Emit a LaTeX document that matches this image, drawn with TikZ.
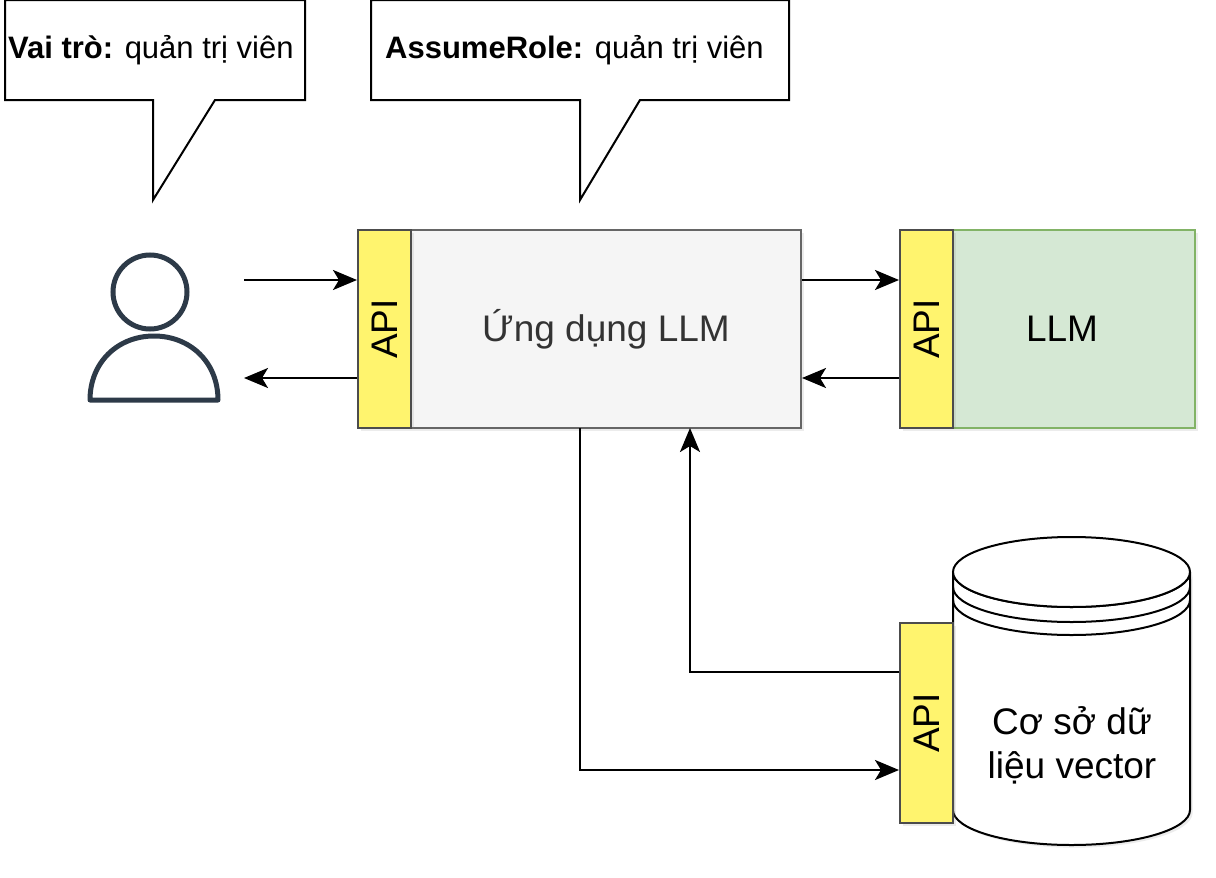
\documentclass[tikz,border=0pt]{standalone}
\usepackage{fontspec}
\setmainfont{Liberation Sans}
\usetikzlibrary{arrows.meta,shadows}
\begin{document}
\begin{tikzpicture}[x=1pt,y=-1pt,
  arr/.style={line width=2.5pt,-{Stealth[length=24pt,width=20pt,inset=6pt]}},
  api/.style={draw=black!70,line width=2pt,fill={rgb,255:red,255;green,244;blue,110},minimum width=53pt,minimum height=198pt,inner sep=0pt,drop shadow={opacity=0.15}},
  callout/.style={draw,line width=2pt,fill=white},
  lbl/.style={font=\fontsize{37}{44}\selectfont}]
\useasboundingbox[fill=white] (0,0) rectangle (1216,878);
% callouts
\draw[callout] (5,0) -- (305,0) -- (305,100) -- (215,100) -- (153,200) -- (153,100) -- (5,100) -- cycle;
\begin{scope}\clip (5,0) rectangle (305,100);
\node[anchor=west,font=\fontsize{31}{36}\selectfont,inner sep=0pt] (t1) at (8,50) {\textbf{Vai trò:} quản trị viên};
\end{scope}
\draw[callout] (371,0) -- (789,0) -- (789,100) -- (640,100) -- (580,200) -- (580,100) -- (371,100) -- cycle;
\begin{scope}\clip (371,0) rectangle (789,100);
\node[anchor=west,font=\fontsize{31}{36}\selectfont,inner sep=0pt] (t2) at (385,50) {\textbf{AssumeRole:} quản trị viên};
\end{scope}
% user
\definecolor{usr}{HTML}{2D3A48}
\draw[usr,line width=5pt,line join=round] (90,400) .. controls (90,362) and (118,336) .. (154,336) .. controls (190,336) and (218,362) .. (218,400) -- cycle;
\draw[usr,line width=5pt,fill=white] (150,292) circle (37);
\coordinate (uin) at (244,280);
\coordinate (uout) at (244,378);
% app
\node[draw=black!60,line width=2pt,fill=black!4,minimum width=390pt,minimum height=198pt,drop shadow={opacity=0.15},lbl,text=black!80] (app) at (606,329) {Ứng dụng LLM};
\node[api] (api1) at (384.5,329) {};
\node[rotate=90,lbl] at (api1) {API};
% llm
\node[draw={rgb,255:red,130;green,179;blue,102},line width=2pt,fill={rgb,255:red,213;green,232;blue,212},minimum width=242pt,minimum height=198pt,drop shadow={opacity=0.15},lbl] (llm) at (1074,329) {\hspace*{-24pt}LLM};
\node[api] (api2) at (926.5,329) {};
\node[rotate=90,lbl] at (api2) {API};
% db
\draw[line width=2pt,fill=white,drop shadow={opacity=0.15}] (953,572) arc[start angle=180,end angle=0,x radius=118.5,y radius=35] -- (1190,810) arc[start angle=0,end angle=180,x radius=118.5,y radius=35] -- cycle;
\draw[line width=2pt,fill=white] (1071.5,572) ellipse[x radius=118.5,y radius=35];
\draw[line width=2pt] (953,587) arc[start angle=180,end angle=0,x radius=118.5,y radius=35];
\draw[line width=2pt] (953,600) arc[start angle=180,end angle=0,x radius=118.5,y radius=35];
\node[lbl,align=center] (db) at (1072,745) {Cơ sở dữ\\liệu vector};
\node[api,minimum height=200pt] (api3) at (926.5,723) {};
\node[rotate=90,lbl] at (api3) {API};
% arrows
\draw[arr] (uin) -- (api1.west |- uin);
\draw[arr] (api1.west |- uout) -- (uout);
\draw[arr] (app.east |- 0,280) -- (api2.west |- 0,280);
\draw[arr] (api2.west |- 0,378) -- (app.east |- 0,378);
\draw[arr] (api3.west |- 0,672) -- (690,672) -- (690,428);
\draw[arr] (580,428) -- (580,770) -- (api3.west |- 0,770);
\end{tikzpicture}
\end{document}
